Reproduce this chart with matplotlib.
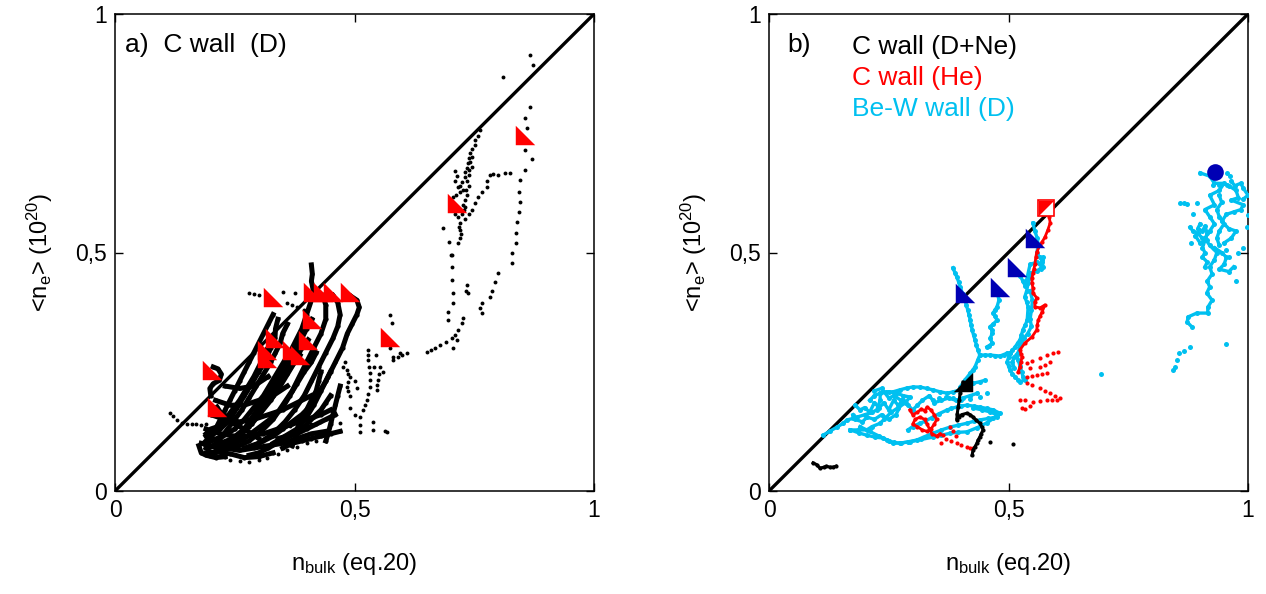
import matplotlib
matplotlib.use("Agg")
import matplotlib.pyplot as plt

plt.rcParams['font.family'] = ['Liberation Sans', 'DejaVu Sans']
plt.rcParams['mathtext.fontset'] = 'custom'
plt.rcParams['mathtext.rm'] = 'Liberation Sans'
plt.rcParams['mathtext.it'] = 'Liberation Sans'

# ---------------- data: panel a (C wall, D) ----------------
a_dense_tracks = [
    [(0.49,0.41),(0.505,0.40),(0.51,0.385),(0.505,0.37),(0.495,0.35),(0.485,0.33),(0.475,0.30),(0.46,0.27),(0.445,0.24),(0.43,0.21),(0.415,0.18),(0.40,0.155),(0.38,0.13),(0.355,0.115),(0.33,0.10)],
    [(0.455,0.41),(0.465,0.395),(0.47,0.37),(0.465,0.345),(0.455,0.32),(0.44,0.29),(0.425,0.26),(0.41,0.23),(0.395,0.20),(0.375,0.17),(0.355,0.145),(0.33,0.12),(0.30,0.10),(0.27,0.09)],
    [(0.434,0.41),(0.44,0.39),(0.44,0.36),(0.43,0.33),(0.415,0.30),(0.40,0.27),(0.385,0.24),(0.37,0.21),(0.35,0.18),(0.33,0.15),(0.305,0.125),(0.28,0.105),(0.25,0.09)],
    [(0.41,0.474),(0.412,0.455),(0.41,0.44),(0.414,0.42),(0.41,0.40),(0.40,0.37),(0.39,0.34),(0.375,0.31),(0.36,0.28),(0.345,0.25),(0.33,0.22),(0.31,0.19),(0.29,0.16),(0.27,0.13),(0.245,0.105),(0.22,0.085),(0.20,0.075)],
    [(0.411,0.36),(0.40,0.34),(0.385,0.31),(0.37,0.28),(0.355,0.25),(0.34,0.22),(0.32,0.19),(0.30,0.16),(0.28,0.135),(0.255,0.11),(0.23,0.095)],
    [(0.403,0.317),(0.39,0.30),(0.375,0.27),(0.36,0.245),(0.345,0.22),(0.325,0.19),(0.305,0.165),(0.285,0.14),(0.26,0.12),(0.235,0.10),(0.21,0.09)],
    [(0.386,0.285),(0.375,0.27),(0.36,0.25),(0.345,0.225),(0.33,0.20),(0.31,0.175),(0.29,0.15),(0.27,0.13),(0.245,0.11),(0.22,0.10),(0.195,0.09)],
    [(0.37,0.296),(0.355,0.275),(0.34,0.25),(0.325,0.225),(0.31,0.20),(0.29,0.175),(0.27,0.15),(0.25,0.13),(0.225,0.115),(0.20,0.105)],
    [(0.34,0.36),(0.335,0.34),(0.334,0.321),(0.325,0.30),(0.315,0.275),(0.30,0.25),(0.285,0.225),(0.27,0.20),(0.255,0.175),(0.24,0.15),(0.22,0.13),(0.20,0.115),(0.185,0.10)],
    [(0.317,0.296),(0.31,0.28),(0.30,0.26),(0.29,0.24),(0.275,0.215),(0.26,0.19),(0.245,0.17),(0.23,0.15),(0.215,0.135),(0.20,0.13),(0.19,0.12)],
    [(0.317,0.279),(0.305,0.26),(0.29,0.235),(0.275,0.21),(0.26,0.185),(0.24,0.16),(0.22,0.14),(0.205,0.125),(0.19,0.115)],
    [(0.213,0.176),(0.22,0.165),(0.235,0.155),(0.25,0.14),(0.27,0.13),(0.285,0.12),(0.30,0.11)],
    [(0.33,0.37),(0.32,0.35),(0.31,0.33),(0.30,0.31),(0.29,0.29),(0.28,0.27),(0.27,0.25),(0.26,0.23),(0.25,0.21),(0.24,0.19),(0.23,0.17),(0.22,0.15),(0.21,0.13),(0.20,0.11),(0.19,0.09)],
    [(0.36,0.35),(0.35,0.33),(0.345,0.31),(0.335,0.29),(0.325,0.27),(0.31,0.245),(0.295,0.22),(0.28,0.195),(0.265,0.17),(0.25,0.15),(0.235,0.13),(0.22,0.11),(0.205,0.095)],
    [(0.42,0.29),(0.41,0.27),(0.395,0.25),(0.38,0.225),(0.365,0.2),(0.35,0.175),(0.33,0.155),(0.31,0.14),(0.29,0.125),(0.27,0.11),(0.25,0.10),(0.225,0.085)],
    [(0.45,0.25),(0.44,0.23),(0.425,0.205),(0.41,0.18),(0.39,0.16),(0.37,0.145),(0.35,0.13),(0.33,0.115),(0.31,0.105),(0.29,0.095)],
    [(0.45,0.20),(0.44,0.185),(0.43,0.17),(0.415,0.155),(0.40,0.14),(0.385,0.125),(0.365,0.115),(0.345,0.105),(0.32,0.09),(0.30,0.08),(0.28,0.075)],
    [(0.47,0.22),(0.465,0.20),(0.46,0.18),(0.455,0.16),(0.45,0.14),(0.445,0.12),(0.44,0.105)],
    [(0.43,0.25),(0.425,0.23),(0.42,0.21),(0.41,0.19),(0.40,0.17),(0.39,0.15),(0.38,0.13),(0.375,0.11),(0.37,0.095)],
    [(0.35,0.09),(0.37,0.10),(0.39,0.105),(0.41,0.11),(0.43,0.115),(0.45,0.12),(0.47,0.125)],
    [(0.34,0.11),(0.36,0.115),(0.38,0.12),(0.40,0.13),(0.42,0.14),(0.44,0.15),(0.46,0.16)],
    [(0.18,0.10),(0.20,0.095),(0.23,0.09),(0.26,0.085),(0.29,0.09),(0.32,0.095),(0.35,0.10),(0.38,0.11),(0.41,0.12),(0.44,0.125)],
    [(0.19,0.13),(0.22,0.12),(0.25,0.115),(0.28,0.115),(0.31,0.12),(0.34,0.13),(0.37,0.14),(0.40,0.15),(0.43,0.16),(0.45,0.17)],
    [(0.20,0.16),(0.23,0.15),(0.26,0.145),(0.29,0.15),(0.32,0.16),(0.35,0.17),(0.38,0.185),(0.41,0.20)],
    [(0.21,0.19),(0.24,0.18),(0.27,0.18),(0.30,0.19),(0.33,0.20),(0.36,0.22)],
    [(0.23,0.22),(0.26,0.215),(0.29,0.22),(0.32,0.24)],
    [(0.19,0.08),(0.21,0.082),(0.24,0.078),(0.27,0.07),(0.30,0.072),(0.33,0.08)],
    [(0.175,0.095),(0.18,0.08),(0.19,0.075),(0.21,0.07),(0.23,0.072)],
    [(0.205,0.26),(0.215,0.256),(0.222,0.245),(0.218,0.232),(0.205,0.225),(0.198,0.215),(0.20,0.20)],
]

a_dots = [
    (0.115,0.164),(0.122,0.157),(0.13,0.149),(0.14,0.143),(0.15,0.141),(0.16,0.14),(0.17,0.14),(0.18,0.139),(0.19,0.14),
    (0.24,0.065),(0.26,0.062),(0.28,0.06),(0.30,0.065),(0.317,0.07),(0.34,0.078),(0.36,0.086),(0.38,0.093),(0.40,0.10),(0.42,0.105),(0.44,0.11),
    (0.345,0.134),(0.365,0.136),(0.386,0.138),(0.41,0.141),(0.428,0.145),(0.45,0.144),(0.47,0.143),
    (0.511,0.124),(0.539,0.128),(0.568,0.124),(0.511,0.138),(0.539,0.145),(0.564,0.126),(0.50,0.16),(0.49,0.175),
    (0.28,0.415),(0.29,0.413),(0.30,0.41),(0.315,0.408),(0.35,0.417),(0.375,0.416),(0.40,0.415),
    (0.36,0.394),(0.37,0.39),(0.38,0.386),(0.395,0.38),
    (0.484,0.254),(0.487,0.246),(0.49,0.239),(0.487,0.228),(0.484,0.218),(0.487,0.209),(0.49,0.20),
    (0.528,0.296),(0.528,0.285),(0.528,0.275),(0.53,0.261),(0.532,0.247),(0.532,0.232),(0.532,0.218),(0.529,0.204),(0.526,0.191),(0.522,0.18),(0.518,0.17),(0.511,0.155),
    (0.553,0.26),(0.551,0.246),(0.549,0.233),(0.547,0.222),(0.547,0.212),
    (0.574,0.369),(0.578,0.352),(0.574,0.30),(0.58,0.275),(0.59,0.28),(0.60,0.285),(0.61,0.29),
    (0.48,0.27),(0.476,0.26),(0.50,0.23),(0.505,0.215),(0.54,0.26),(0.545,0.285),(0.56,0.25),
    (0.58,0.281),(0.595,0.289),
    (0.651,0.291),(0.66,0.295),(0.668,0.3),(0.678,0.306),(0.69,0.313),(0.703,0.32),(0.71,0.328),(0.716,0.338),(0.724,0.352),(0.727,0.363),(0.706,0.30),(0.714,0.317),
    (0.703,0.495),(0.703,0.47),(0.703,0.442),(0.705,0.415),(0.705,0.394),(0.695,0.375),(0.695,0.358),
    (0.685,0.551),(0.697,0.522),(0.701,0.495),
    (0.735,0.432),(0.737,0.415),(0.733,0.42),(0.766,0.394),(0.766,0.373),(0.763,0.383),
    (0.80,0.457),(0.793,0.438),(0.787,0.42),(0.783,0.407),
    (0.829,0.499),(0.829,0.478),
    (0.866,0.914),(0.873,0.893),(0.81,0.868),
    (0.866,0.805),(0.856,0.782),(0.86,0.761),(0.856,0.715),(0.87,0.696),(0.856,0.673),(0.846,0.652),(0.844,0.627),
    (0.846,0.606),(0.844,0.585),(0.839,0.564),(0.837,0.541),(0.837,0.52),
    (0.825,0.667),(0.814,0.667),(0.80,0.662),(0.79,0.664),(0.783,0.662),(0.776,0.65),(0.776,0.637),(0.766,0.627),(0.758,0.616),(0.752,0.604),
    (0.745,0.59),(0.74,0.58),(0.73,0.57),
    (0.762,0.757),(0.757,0.745),(0.752,0.735),(0.752,0.725),(0.746,0.716),(0.741,0.708),(0.739,0.698),(0.737,0.688),(0.735,0.678),
    (0.73,0.668),(0.73,0.658),(0.724,0.648),(0.716,0.637),(0.72,0.627),(0.712,0.62),(0.706,0.616),(0.706,0.60),(0.706,0.589),(0.71,0.58),
    (0.716,0.574),(0.72,0.562),(0.718,0.554),(0.72,0.547),(0.722,0.538),(0.72,0.53),(0.716,0.52),
    (0.745,0.70),(0.742,0.69),(0.745,0.68),(0.738,0.672),(0.74,0.662),(0.735,0.65),(0.738,0.64),(0.733,0.632),(0.735,0.62),(0.73,0.61),
    (0.726,0.60),(0.728,0.59),(0.724,0.58),(0.73,0.595),(0.72,0.64),(0.726,0.63),(0.714,0.66),(0.71,0.65),(0.71,0.67),
]

a_tri_x = [0.203,0.213,0.33,0.414,0.434,0.455,0.49,0.411,0.403,0.334,0.317,0.317,0.37,0.386,0.574,0.714,0.856]
a_tri_y = [0.254,0.176,0.407,0.418,0.418,0.418,0.418,0.36,0.317,0.321,0.296,0.279,0.296,0.285,0.323,0.604,0.746]

# ---------------- data: panel b ----------------
b_cyan_tracks = [
    [(0.113,0.117),(0.128,0.126),(0.142,0.134),(0.155,0.142),(0.163,0.149),(0.175,0.152),(0.184,0.155),(0.20,0.16),(0.215,0.165),(0.225,0.17),(0.232,0.19),(0.232,0.205),(0.25,0.208),(0.267,0.205),(0.28,0.20),(0.294,0.197),(0.285,0.185),(0.27,0.175),(0.255,0.165),(0.24,0.15),(0.232,0.142),(0.215,0.135),(0.204,0.128),(0.185,0.128),(0.169,0.128)],
    [(0.19,0.135),(0.21,0.125),(0.23,0.115),(0.246,0.107),(0.26,0.102),(0.274,0.10),(0.29,0.103),(0.309,0.107),(0.325,0.114),(0.342,0.121),(0.36,0.128),(0.378,0.134),(0.395,0.138),(0.413,0.142),(0.427,0.146),(0.44,0.149),(0.458,0.152),(0.476,0.155),(0.482,0.163),(0.468,0.17),(0.455,0.173),(0.44,0.176),(0.427,0.178),(0.413,0.18),(0.40,0.178),(0.392,0.176),(0.38,0.173),(0.372,0.17),(0.355,0.162),(0.34,0.154),(0.325,0.146),(0.315,0.142),(0.30,0.135),(0.29,0.128)],
    [(0.17,0.128),(0.187,0.122),(0.204,0.117),(0.221,0.113),(0.238,0.111),(0.25,0.105),(0.259,0.10),(0.276,0.101),(0.294,0.103),(0.318,0.108),(0.342,0.113),(0.36,0.117),(0.378,0.121),(0.395,0.123),(0.413,0.124),(0.435,0.133),(0.455,0.143),(0.468,0.152),(0.476,0.16),(0.468,0.165),(0.461,0.166),(0.445,0.17),(0.426,0.174)],
    [(0.21,0.19),(0.22,0.20),(0.232,0.205),(0.245,0.207),(0.259,0.208),(0.273,0.212),(0.288,0.216),(0.30,0.218),(0.315,0.218),(0.33,0.215),(0.342,0.212),(0.357,0.208),(0.372,0.205),(0.385,0.208),(0.399,0.212),(0.41,0.218),(0.426,0.226),(0.44,0.229),(0.45,0.232)],
    [(0.18,0.18),(0.19,0.17),(0.20,0.175),(0.21,0.165),(0.22,0.185),(0.23,0.175),(0.24,0.185),(0.25,0.17),(0.26,0.19),(0.27,0.18),(0.28,0.19),(0.265,0.16),(0.25,0.15),(0.235,0.16),(0.22,0.15),(0.205,0.155),(0.195,0.145),(0.18,0.15),(0.175,0.16)],
    [(0.22,0.21),(0.235,0.215),(0.25,0.195),(0.262,0.2),(0.275,0.19),(0.29,0.18),(0.30,0.17),(0.31,0.18),(0.32,0.19),(0.335,0.2),(0.345,0.185),(0.36,0.19),(0.375,0.195),(0.39,0.19),(0.405,0.195),(0.42,0.2),(0.435,0.205)],
    [(0.384,0.468),(0.388,0.458),(0.392,0.449),(0.396,0.438),(0.399,0.428),(0.404,0.414),(0.409,0.40),(0.412,0.39),(0.415,0.379),(0.418,0.368),(0.42,0.358),(0.422,0.348),(0.424,0.338),(0.427,0.327),(0.43,0.317),(0.433,0.306),(0.436,0.296),(0.44,0.285),(0.436,0.275),(0.43,0.26),(0.425,0.253),(0.42,0.247),(0.415,0.24),(0.409,0.233),(0.399,0.218)],
    [(0.44,0.285),(0.45,0.285),(0.461,0.285),(0.472,0.284),(0.482,0.283),(0.49,0.286),(0.497,0.289),(0.503,0.289)],
    [(0.482,0.42),(0.478,0.411),(0.48,0.40),(0.476,0.386),(0.472,0.38),(0.468,0.373),(0.472,0.366),(0.476,0.358),(0.468,0.35),(0.461,0.344),(0.466,0.337),(0.466,0.331),(0.462,0.32),(0.466,0.31),(0.46,0.305),(0.455,0.302)],
    [(0.551,0.562),(0.555,0.545),(0.56,0.53),(0.562,0.515),(0.559,0.499),(0.565,0.49),(0.57,0.484),(0.572,0.47),(0.56,0.462),(0.545,0.457),(0.543,0.446),(0.541,0.436),(0.538,0.42),(0.534,0.407),(0.538,0.396),(0.541,0.386),(0.54,0.372),(0.539,0.358),(0.535,0.348),(0.53,0.338),(0.527,0.327),(0.524,0.317),(0.519,0.31),(0.514,0.302),(0.508,0.295),(0.503,0.289),(0.5,0.28),(0.497,0.27),(0.5,0.262),(0.503,0.254),(0.508,0.246),(0.514,0.239),(0.52,0.233),(0.524,0.229),(0.534,0.233),(0.53,0.24),(0.528,0.249),(0.524,0.262),(0.52,0.275),(0.517,0.285)],
    [(0.518,0.46),(0.525,0.45),(0.53,0.44),(0.535,0.43),(0.545,0.475),(0.56,0.48),(0.565,0.475),(0.57,0.48),(0.572,0.49),(0.568,0.465)],
    [(0.545,0.42),(0.55,0.40),(0.548,0.38),(0.545,0.36),(0.548,0.345),(0.54,0.33),(0.532,0.32),(0.525,0.305),(0.52,0.29),(0.512,0.28),(0.508,0.27),(0.512,0.258)],
    [(0.90,0.667),(0.92,0.66),(0.93,0.645),(0.95,0.645),(0.94,0.63),(0.92,0.62),(0.93,0.60),(0.91,0.59),(0.92,0.575),(0.93,0.56),(0.92,0.545),(0.91,0.53),(0.92,0.515),(0.935,0.50),(0.93,0.485),(0.92,0.47),(0.925,0.455),(0.915,0.44),(0.92,0.428),(0.914,0.415),(0.925,0.40),(0.916,0.385),(0.916,0.373),(0.893,0.373),(0.875,0.365),(0.873,0.354),(0.883,0.344)],
    [(0.96,0.64),(0.975,0.63),(0.98,0.615),(0.965,0.61),(0.99,0.60),(0.985,0.59),(0.97,0.585),(0.955,0.58),(0.945,0.565),(0.96,0.55),(0.975,0.545),(0.965,0.53),(0.95,0.52)],
    [(0.879,0.553),(0.885,0.545),(0.895,0.54),(0.905,0.53),(0.914,0.526),(0.90,0.52),(0.89,0.535)],
    [(0.93,0.51),(0.945,0.50),(0.955,0.49),(0.95,0.475),(0.94,0.465),(0.96,0.46),(0.97,0.47)],
    [(0.94,0.62),(0.945,0.605),(0.935,0.59),(0.94,0.575),(0.95,0.56),(0.94,0.545),(0.935,0.53),(0.94,0.515)],
    [(0.90,0.56),(0.895,0.55),(0.905,0.545),(0.91,0.555),(0.915,0.54),(0.905,0.51),(0.91,0.50),(0.905,0.49),(0.915,0.48),(0.91,0.47)],
    [(0.965,0.65),(0.972,0.64),(0.985,0.645),(0.99,0.635),(1.0,0.62),(0.99,0.612)],
]

b_cyan_dots = [
    (0.956,0.667),(0.962,0.66),(0.927,0.641),(0.94,0.641),(0.956,0.641),(0.858,0.604),(0.866,0.603),(0.873,0.602),(0.893,0.604),
    (1.0,0.579),(0.998,0.554),(0.99,0.51),(0.98,0.50),(0.975,0.44),(0.96,0.49),(0.955,0.505),(0.885,0.58),(0.88,0.52),
    (0.879,0.302),(0.866,0.293),(0.856,0.289),(0.852,0.275),(0.848,0.26),(0.844,0.254),(0.954,0.308),(0.693,0.245),
    (0.342,0.191),(0.355,0.196),(0.37,0.198),(0.385,0.195),(0.40,0.19),(0.42,0.192),(0.44,0.198),(0.455,0.205),
]

b_red_tracks = [
    [(0.582,0.585),(0.585,0.575),(0.587,0.562),(0.582,0.547),(0.576,0.532),(0.57,0.522),(0.566,0.516),(0.559,0.501),(0.557,0.49),(0.555,0.475),(0.553,0.465),(0.551,0.457),(0.549,0.446),(0.549,0.436),(0.551,0.425),(0.551,0.415),(0.559,0.405),(0.555,0.396),(0.555,0.386),(0.566,0.384),(0.576,0.39),(0.57,0.375),(0.566,0.367),(0.562,0.358),(0.56,0.348),(0.559,0.338),(0.549,0.323),(0.534,0.31),(0.524,0.296),(0.526,0.288),(0.528,0.281),(0.526,0.27),(0.524,0.26),(0.52,0.249)],
    [(0.294,0.17),(0.30,0.16),(0.31,0.165),(0.318,0.172),(0.325,0.168),(0.33,0.176),(0.338,0.17),(0.345,0.16),(0.35,0.15),(0.345,0.14),(0.338,0.13),(0.33,0.125),(0.32,0.128),(0.31,0.135),(0.30,0.14),(0.305,0.15),(0.315,0.155),(0.325,0.15),(0.33,0.14),(0.34,0.12),(0.35,0.115),(0.357,0.12)],
]

b_red_dots = [
    (0.539,0.268),(0.55,0.272),(0.566,0.279),(0.58,0.285),(0.593,0.289),(0.603,0.291),
    (0.545,0.258),(0.566,0.26),(0.577,0.265),(0.587,0.27),
    (0.539,0.239),(0.549,0.241),(0.559,0.243),(0.57,0.245),(0.58,0.247),
    (0.539,0.226),(0.55,0.222),(0.566,0.216),(0.576,0.21),(0.587,0.205),(0.597,0.2),(0.608,0.195),
    (0.524,0.191),(0.535,0.19),(0.551,0.187),(0.565,0.189),(0.58,0.191),(0.59,0.19),(0.601,0.191),
    (0.528,0.175),(0.535,0.172),(0.545,0.178),
    (0.363,0.118),(0.37,0.11),(0.38,0.104),(0.392,0.10),(0.40,0.097),(0.413,0.093),(0.42,0.09),(0.426,0.09),
    (0.378,0.134),(0.385,0.125),(0.39,0.115),(0.36,0.10),
]

b_black_tracks = [
    [(0.405,0.228),(0.403,0.215),(0.399,0.205),(0.397,0.19),(0.395,0.176),(0.393,0.162),(0.392,0.149),(0.396,0.155),(0.402,0.16),(0.413,0.163),(0.42,0.16),(0.426,0.155),(0.433,0.148),(0.44,0.142),(0.444,0.135),(0.447,0.128),(0.443,0.12),(0.44,0.113),(0.436,0.106),(0.434,0.10),(0.43,0.093),(0.426,0.086),(0.424,0.075)],
    [(0.092,0.059),(0.10,0.055),(0.106,0.048),(0.115,0.05),(0.12,0.052),(0.127,0.05),(0.134,0.05),(0.14,0.052)],
]
b_black_dots = [(0.461,0.103),(0.509,0.099)]

b_bluetri_x = [0.409,0.482,0.518,0.555]
b_bluetri_y = [0.415,0.428,0.47,0.53]
b_blacktri = (0.405,0.228)
b_redsq = (0.578,0.593)
b_circle = (0.931,0.669)

ticks = [0, 0.5, 1]
ticklabels = ['0', '0,5', '1']

# ---------------- drawing ----------------
CYAN = '#00C0F0'
RED = '#FF0000'
BLUE = '#0000B4'

tri_ll = [(-1, 1), (-1, -1), (1, -1), (-1, 1)]   # right angle at lower-left
tri_lr = [(1, 1), (-1, -1), (1, -1), (1, 1)]     # right angle at lower-right
tri_ul = [(-1, 1), (-1, -1), (1, 1), (-1, 1)]

fig = plt.figure(figsize=(12.66, 5.94), dpi=100)
W, H = 1266, 594
axA = fig.add_axes([115 / W, (594 - 491) / H, 479 / W, 477 / H])
axB = fig.add_axes([769 / W, (594 - 491) / H, 479 / W, 477 / H])


def style(ax):
    ax.set_xlim(0, 1)
    ax.set_ylim(0, 1)
    ax.set_xticks(ticks)
    ax.set_yticks(ticks)
    ax.set_xticklabels(ticklabels)
    ax.set_yticklabels(ticklabels)
    ax.tick_params(direction='in', length=6, width=1, labelsize=16.5, top=True, right=True, pad=6)
    for s in ax.spines.values():
        s.set_linewidth(1.1)
    ax.plot([0, 1], [0, 1], color='black', lw=2.4, zorder=2)
    ax.set_xlabel(r'n$_{\mathregular{bulk}}$ (eq.20)', fontsize=17)
    ax.xaxis.set_label_coords(0.5, -0.125)
    ax.set_ylabel(r'<n$_{\mathregular{e}}$> (10$^{\mathregular{20}}$)', fontsize=17)
    ax.yaxis.set_label_coords(-0.125, 0.5)


def tracks(ax, trs, color, lw, ms, z=3):
    for tr in trs:
        xs = [p[0] for p in tr]
        ys = [p[1] for p in tr]
        ax.plot(xs, ys, '-', color=color, lw=lw, marker='o', ms=ms, mew=0, zorder=z)


def dots(ax, pts, color, ms, z=3):
    ax.plot([p[0] for p in pts], [p[1] for p in pts], 'o', color=color, ms=ms, mew=0, zorder=z)


style(axA)
style(axB)

# panel a
tracks(axA, a_dense_tracks, 'black', 3.6, 3.0)
dots(axA, a_dots, 'black', 2.8)
axA.plot(a_tri_x, a_tri_y, linestyle='none', marker=tri_ll, ms=14, color=RED, mew=0, zorder=5)
axA.text(0.021, 0.96, 'a)  C wall  (D)', transform=axA.transAxes, fontsize=19, va='top', ha='left')

# panel b
tracks(axB, b_cyan_tracks, CYAN, 2.4, 3.6, z=3)
dots(axB, b_cyan_dots, CYAN, 3.6)
tracks(axB, b_red_tracks, RED, 2.0, 3.0, z=4)
dots(axB, b_red_dots, RED, 3.0, z=4)
tracks(axB, b_black_tracks, 'black', 2.2, 3.0, z=4)
dots(axB, b_black_dots, 'black', 3.0, z=4)
axB.plot(b_bluetri_x, b_bluetri_y, linestyle='none', marker=tri_ll, ms=14, color=BLUE, mew=0, zorder=6)
axB.plot([b_blacktri[0]], [b_blacktri[1]], linestyle='none', marker=tri_lr, ms=14, color='black', mew=0, zorder=6)
axB.plot([b_redsq[0]], [b_redsq[1]], linestyle='none', marker='s', ms=11, mfc='white', mec=RED, mew=1.2, zorder=6)
axB.plot([b_redsq[0]], [b_redsq[1]], linestyle='none', marker=tri_ul, ms=11, color=RED, mew=0, zorder=7)
axB.plot([b_circle[0]], [b_circle[1]], linestyle='none', marker='o', ms=12, color=BLUE, mew=0, zorder=6)

axB.text(0.0376, 0.96, 'b)', transform=axB.transAxes, fontsize=19, va='top', ha='left')
axB.text(0.173, 0.956, 'C wall (D+Ne)', transform=axB.transAxes, fontsize=19, va='top', ha='left', color='black')
axB.text(0.173, 0.891, 'C wall (He)', transform=axB.transAxes, fontsize=19, va='top', ha='left', color=RED)
axB.text(0.173, 0.826, 'Be-W wall (D)', transform=axB.transAxes, fontsize=19, va='top', ha='left', color=CYAN)

fig.savefig('out.png', dpi=100)
